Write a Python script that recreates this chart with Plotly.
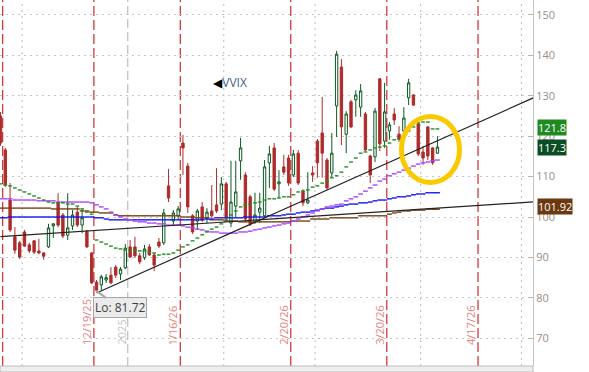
import pandas as pd
import plotly.graph_objects as go

# ---------------- categories (trading days) ----------------
holidays = ["2025-11-27", "2025-12-25", "2026-01-01", "2026-01-19", "2026-02-16", "2026-04-03"]
axis_days = [d.strftime("%Y-%m-%d") for d in
             pd.bdate_range("2025-11-21", "2026-05-05", freq="C", holidays=holidays)]
n_bars = 92
bar_dates = axis_days[:n_bars]

# ---------------- OHLC (VVIX daily) ----------------
open_ = [125.0, 116.6, 104.2, 95.1, 93.6, 96.3, 93.1, 94.1, 91.6, 91.1,
         92.6, 97.8, 103.5, 100.5, 95.5, 97.8, 101.2, 98.0, 96.5, 91.1,
         83.9, 83.2, 84.4, 85.6, 87.6, 85.9, 87.4, 92.6, 92.6, 90.4,
         89.9, 92.6, 90.6, 93.8, 93.6, 107.7, 99.0, 100.3, 118.3, 112.6,
         100.3, 99.0, 102.5, 99.8, 101.5, 103.0, 103.2, 108.2, 98.5, 102.7,
         113.9, 110.4, 105.0, 98.8, 101.2, 100.3, 113.4, 117.1, 108.2, 112.4,
         114.6, 110.4, 115.8, 106.4, 103.5, 110.9, 118.8, 120.8, 114.1, 110.9,
         127.5, 137.1, 120.5, 128.5, 129.0, 127.2, 125.5, 115.1, 114.9, 134.2,
         118.8, 121.3, 125.5, 120.5, 121.3, 129.5, 130.2, 123.0, 116.1, 122.3,
         117.1, 115.8]
high = [126.0, 117.1, 108.4, 97.5, 94.1, 96.8, 93.6, 94.3, 94.6, 91.3,
        98.3, 98.5, 105.9, 101.0, 105.9, 101.7, 102.5, 101.9, 96.8, 91.3,
        84.4, 85.7, 85.9, 87.6, 88.1, 87.6, 93.3, 94.3, 95.1, 91.1,
        93.1, 93.3, 91.1, 94.8, 102.0, 111.9, 101.7, 102.7, 120.3, 113.4,
        100.7, 102.0, 103.7, 102.2, 107.9, 112.1, 109.9, 108.7, 113.9, 113.9,
        119.6, 111.1, 105.5, 106.0, 106.0, 114.1, 117.6, 118.3, 111.6, 115.4,
        115.4, 116.6, 116.6, 106.9, 111.1, 112.6, 119.3, 129.7, 114.6, 120.8,
        141.1, 139.1, 126.2, 129.0, 131.4, 132.9, 126.0, 115.4, 127.0, 134.4,
        133.2, 123.5, 127.0, 122.5, 127.2, 134.2, 130.4, 123.5, 117.6, 122.5,
        117.3, 120.0]
low = [117.6, 107.4, 96.3, 90.9, 89.6, 92.6, 91.1, 90.8, 90.8, 89.4,
       92.3, 94.8, 97.5, 94.8, 94.3, 96.8, 97.5, 96.0, 92.3, 83.4,
       81.72, 81.9, 83.7, 83.4, 84.9, 84.4, 87.1, 89.9, 89.9, 88.4,
       89.4, 90.4, 86.6, 92.3, 93.1, 103.7, 98.0, 99.3, 110.4, 101.0,
       95.8, 96.8, 98.8, 98.5, 99.8, 101.0, 101.7, 98.8, 97.5, 100.0,
       109.2, 98.8, 97.8, 98.3, 98.5, 99.8, 107.2, 106.4, 104.7, 110.4,
       107.7, 109.9, 107.9, 102.7, 103.2, 108.7, 109.7, 109.7, 106.7, 109.9,
       119.8, 117.8, 115.8, 122.0, 124.8, 124.8, 116.3, 108.4, 113.6, 116.3,
       117.1, 119.1, 122.8, 118.6, 121.0, 127.7, 127.5, 115.1, 112.9, 114.1,
       112.9, 115.6]
close = [118.3, 107.9, 96.8, 91.8, 90.1, 92.8, 91.6, 91.3, 91.1, 90.3,
         97.3, 98.3, 98.0, 95.3, 97.3, 100.5, 98.0, 99.8, 92.6, 83.7,
         81.9, 85.2, 85.0, 83.7, 85.6, 87.1, 92.3, 90.1, 90.4, 88.9,
         92.1, 90.6, 88.1, 92.8, 101.0, 104.7, 101.0, 102.0, 117.1, 102.5,
         96.3, 101.5, 99.3, 101.2, 100.3, 101.5, 108.2, 99.8, 103.7, 106.2,
         117.1, 99.5, 98.3, 100.5, 102.2, 112.4, 115.6, 106.9, 108.7, 111.1,
         108.4, 115.6, 108.4, 103.5, 104.2, 110.4, 113.4, 115.8, 107.2, 115.8,
         140.3, 122.3, 125.5, 122.3, 130.2, 131.2, 116.6, 110.4, 126.2, 118.1,
         126.0, 122.8, 124.0, 119.3, 124.5, 133.2, 127.7, 115.6, 114.6, 115.1,
         113.4, 117.3]

# ---------------- study lines (per bar) ----------------
green_study = [108.2, 107.9, 107.7, 107.2, 106.7, 106.2, 105.7, 105.2, 104.7, 104.2,
               103.7, 103.5, 103.5, 103.5, 103.2, 103.2, 102.7, 102.0, 101.2, 100.7,
               94.3, 93.8, 93.3, 92.8, 92.3, 92.1, 91.8, 91.8, 91.8, 91.6,
               91.6, 91.3, 91.1, 90.6, 90.8, 90.8, 91.1, 91.8, 92.6, 93.1,
               94.1, 94.8, 95.6, 96.3, 97.0, 97.5, 98.3, 99.3, 100.5, 101.5,
               102.5, 103.0, 103.2, 103.5, 103.7, 104.2, 104.5, 104.5, 104.7, 105.0,
               105.0, 105.5, 106.2, 106.4, 106.7, 107.4, 107.7, 108.4, 108.9, 109.7,
               110.2, 111.1, 112.4, 113.6, 114.6, 115.8, 116.1, 116.6, 117.1, 117.3,
               117.6, 118.3, 119.1, 119.3, 120.3, 121.3, 122.3, 123.3, 123.5, 123.5,
               121.8, 121.8]
purple_study = [104.5, 104.5, 104.5, 104.2, 104.2, 104.2, 104.2, 104.2, 104.0, 104.0,
                104.0, 104.0, 103.7, 103.7, 103.7, 103.7, 103.7, 103.7, 103.7, 103.5,
                103.0, 102.5, 102.0, 101.2, 100.5, 100.0, 99.5, 99.3, 99.0, 98.8,
                98.8, 98.5, 98.5, 98.3, 98.3, 98.0, 98.0, 98.0, 97.8, 97.5,
                97.3, 97.0, 96.8, 96.5, 96.3, 96.3, 96.0, 96.0, 96.0, 96.0,
                96.3, 96.3, 96.5, 96.8, 97.0, 97.3, 97.5, 97.8, 98.0, 98.3,
                98.5, 99.0, 99.5, 100.0, 100.5, 101.0, 101.5, 102.0, 102.5, 102.7,
                103.0, 103.2, 104.0, 104.5, 105.0, 105.7, 106.4, 107.2, 107.9, 108.9,
                109.4, 110.2, 110.7, 111.1, 111.6, 112.1, 112.6, 113.1, 113.4, 113.6,
                113.9, 114.1]
blue_study = [99.8, 99.8, 100.0, 100.0, 100.0, 100.0, 100.0, 100.0, 100.0, 100.0,
              100.0, 100.0, 100.0, 100.0, 100.0, 100.0, 100.0, 100.0, 100.0, 100.0,
              99.8, 99.8, 99.5, 99.3, 99.3, 99.3, 99.3, 99.3, 99.3, 99.3,
              99.3, 99.3, 99.3, 99.3, 99.3, 99.3, 99.3, 99.3, 99.3, 99.3,
              99.3, 99.3, 99.3, 99.5, 99.5, 99.8, 99.8, 99.8, 99.8, 99.8,
              99.8, 100.0, 100.0, 100.0, 100.0, 100.0, 100.3, 100.3, 100.3, 100.5,
              100.7, 100.7, 101.0, 101.2, 101.2, 101.5, 101.7, 102.0, 102.2, 102.2,
              102.5, 102.7, 103.0, 103.2, 103.2, 103.5, 103.5, 103.7, 104.0, 104.2,
              104.2, 104.5, 104.7, 105.0, 105.0, 105.2, 105.5, 105.7, 105.7, 106.0,
              106.0, 106.0]
brown_study = [102.2, 102.2, 102.2, 102.2, 102.2, 102.2, 102.2, 102.2, 102.2, 102.2,
               102.2, 102.0, 102.0, 102.0, 102.0, 102.0, 102.0, 101.5, 101.5, 101.2,
               101.2, 101.0, 101.0, 101.0, 100.5, 100.3, 100.3, 100.3, 100.3, 100.3,
               100.3, 100.3, 100.3, 100.3, 100.3, 100.3, 100.3, 100.3, 100.0, 100.0,
               100.0, 99.8, 99.8, 99.8, 99.3, 99.3, 99.3, 99.0, 99.0, 99.0,
               98.8, 98.8, 98.8, 98.8, 98.8, 98.8, 98.8, 98.8, 98.8, 98.8,
               98.8, 99.0, 99.0, 99.0, 99.0, 99.5, 99.5, 99.5, 99.5, 99.8,
               99.8, 99.8, 99.8, 99.8, 99.8, 100.3, 100.3, 100.3, 100.3, 100.3,
               100.3, 100.7, 101.0, 101.2, 101.5, 101.5, 101.7, 101.7, 101.7, 101.92,
               101.92, 101.92]

# ---------------- trendlines ----------------
trend_up_x = ["2025-12-22", "2026-05-05"]
trend_up_y = [81.2, 129.5]
trend_flat_x = ["2025-11-21", "2026-05-05"]
trend_flat_y = [95.13, 103.73]

# ---------------- markers / labels ----------------
expiry_dates = ["2025-11-21", "2025-12-19", "2026-01-16", "2026-02-20", "2026-03-20", "2026-04-17"]
expiry_labels = ["", "12/19/25", "1/16/26", "2/20/26", "3/20/26", "4/17/26"]
month_starts = ["2025-12-01", "2026-02-02", "2026-03-02", "2026-04-01", "2026-05-01"]
year_start = "2026-01-02"
year_label = "2025"
low_date, low_value = "2025-12-22", 81.72
yticks = [70, 80, 90, 100, 110, 120, 130, 140, 150]
price_tags = [(121.8, "121.8", "#1f8a22", 1), (117.3, "117.3", "#0b4d24", 0),
              (101.92, "101.92", "#6b3910", 3)]

idx = {d: i for i, d in enumerate(axis_days)}
Y0, Y1 = 63.12, 153.71

fig = go.Figure()

def study(vals, color, size):
    fig.add_trace(go.Scatter(
        x=bar_dates, y=vals, mode="markers", hoverinfo="skip", showlegend=False,
        marker=dict(symbol="line-ew", size=size, line=dict(color=color, width=1.4))))

study(brown_study, "#7a3d0c", 3.5)
study(blue_study, "#1414f0", 3.5)
study(purple_study, "#a943ff", 3.4)
study(green_study, "#1f8f1f", 2.7)

fig.add_trace(go.Candlestick(
    x=bar_dates, open=open_, high=high, low=low, close=close,
    whiskerwidth=0, showlegend=False, hoverinfo="skip",
    increasing=dict(line=dict(color="#0c5a22", width=1), fillcolor="#ffffff"),
    decreasing=dict(line=dict(color="#ae2b2b", width=1), fillcolor="#ae2b2b")))

for xs, ys in [(trend_flat_x, trend_flat_y), (trend_up_x, trend_up_y)]:
    fig.add_trace(go.Scatter(x=xs, y=ys, mode="lines", hoverinfo="skip", showlegend=False,
                             line=dict(color="#222222", width=1.2)))

shapes = []
for d in month_starts:
    p = idx[d] - 0.5
    shapes.append(dict(type="line", xref="x", yref="paper", x0=p, x1=p, y0=0, y1=1,
                       line=dict(color="#bdbdbd", width=1, dash="2px,4px"), layer="between"))
p = idx[year_start] - 0.5
shapes.append(dict(type="line", xref="x", yref="paper", x0=p, x1=p, y0=0, y1=1,
                   line=dict(color="#c2c2c2", width=1.3, dash="9px,4px"), layer="between"))
for d in expiry_dates:
    p = idx[d] + 0.45
    shapes.append(dict(type="line", xref="x", yref="paper", x0=p, x1=p, y0=0, y1=1,
                       line=dict(color="#d23a3a", width=1.3, dash="10px,4px"), layer="between"))
# highlight ellipse
shapes.append(dict(type="circle", xref="x", yref="y", x0=83.5, x1=95.6, y0=108.54, y1=124.88,
                   line=dict(color="#fcc800", width=5), layer="above"))
# bottom strip
shapes.append(dict(type="rect", xref="paper", yref="paper", x0=0, x1=1, y0=-0.0164, y1=0,
                   fillcolor="#eeeeee", line=dict(color="#bcbcbc", width=1), layer="above"))

annotations = []
for d, lab in zip(expiry_dates, expiry_labels):
    if lab:
        annotations.append(dict(x=idx[d] - 1.0, y=67.83, xref="x", yref="y", text=lab,
                                textangle=-90, xanchor="center", yanchor="bottom", showarrow=False,
                                font=dict(size=11, color="#e68080", family="Open Sans")))
annotations.append(dict(x=idx[year_start] - 1.9, y=67.83, xref="x", yref="y", text=year_label,
                        textangle=-90, xanchor="center", yanchor="bottom", showarrow=False,
                        font=dict(size=11, color="#c4c4c4", family="Open Sans")))
annotations.append(dict(x=idx[low_date], y=low_value, xref="x", yref="y", text="Lo: " + str(low_value),
                        showarrow=True, ax=23, ay=17, arrowhead=0, arrowwidth=2, arrowcolor="#a8a8a8",
                        standoff=0, bgcolor="#ebebeb", bordercolor="#a6a6a6", borderwidth=1, borderpad=1,
                        font=dict(size=12, color="#3f3f3f", family="Open Sans")))
annotations.append(dict(x=43.85, y=133.2, xref="x", yref="y", xanchor="left", yanchor="middle",
                        text='<span style="color:#000000">◀</span><span style="color:#45608f">VVIX</span>',
                        showarrow=False, font=dict(size=12, family="Open Sans, DejaVu Sans")))
for val, txt, col, ys in price_tags:
    annotations.append(dict(x=1, y=val, xref="paper", yref="y", xanchor="left", yanchor="middle",
                            xshift=4, yshift=ys, text=txt, showarrow=False, bgcolor=col, borderpad=0,
                            font=dict(size=11, color="#ffffff", family="Open Sans")))

fig.update_layout(
    width=589, height=372,
    margin=dict(l=0, r=56, t=0, b=6),
    paper_bgcolor="#ffffff", plot_bgcolor="#ffffff",
    shapes=shapes, annotations=annotations, showlegend=False,
    xaxis=dict(type="category", categoryorder="array", categoryarray=axis_days,
               range=[-0.1, 110.9], showgrid=False, showticklabels=False, ticks="",
               showline=False, zeroline=False, rangeslider=dict(visible=False), fixedrange=True),
    yaxis=dict(side="right", range=[Y0, Y1], tickvals=yticks, showgrid=True,
               gridcolor="#c6c6c6", griddash="2px,4px", gridwidth=1,
               ticks="inside", ticklen=5, tickcolor="#b5b5b5",
               tickfont=dict(size=11, color="#9a8e85", family="Open Sans"),
               showline=True, linecolor="#c4c4c4", zeroline=False, fixedrange=True),
)

fig.write_html("out.html", config={"displayModeBar": False},
               post_script="document.body.style.margin='0px';")
